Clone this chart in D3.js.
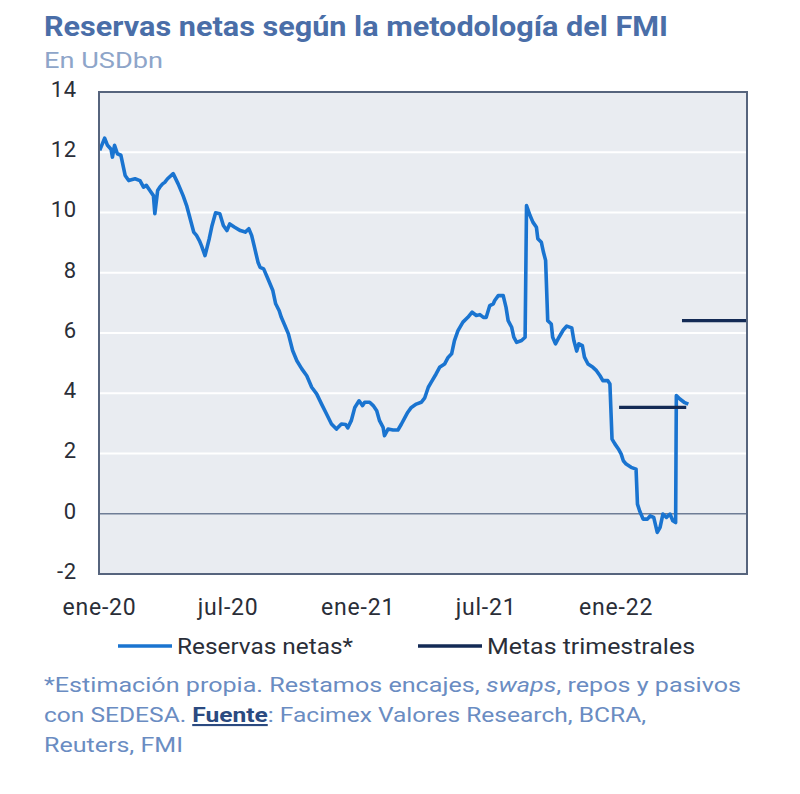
<!DOCTYPE html>
<html><head><meta charset="utf-8">
<script src="https://cdn.jsdelivr.net/npm/d3@7"></script>
<style>
body{margin:0;background:#fff}
text{font-family:Roboto,"Noto Sans",sans-serif}
</style>
</head><body>
<svg id="c" width="800" height="794"></svg>
<script>
const reservaFechas = [
"2020-01-02","2020-01-09","2020-01-13","2020-01-18","2020-01-20","2020-01-23","2020-01-27","2020-02-01","2020-02-07","2020-02-12",
"2020-02-21","2020-02-28","2020-03-04","2020-03-08","2020-03-13","2020-03-18","2020-03-20","2020-03-24","2020-03-27","2020-03-31",
"2020-04-03","2020-04-07","2020-04-15","2020-04-22","2020-04-29","2020-05-04","2020-05-09","2020-05-14","2020-05-18","2020-05-22",
"2020-05-25","2020-05-30","2020-06-05","2020-06-09","2020-06-14","2020-06-20","2020-06-25","2020-06-30","2020-07-04","2020-07-11",
"2020-07-19","2020-07-26","2020-07-31","2020-08-04","2020-08-08","2020-08-13","2020-08-16","2020-08-21","2020-08-27","2020-09-03",
"2020-09-07","2020-09-12","2020-09-15","2020-09-20","2020-09-25","2020-10-01","2020-10-07","2020-10-14","2020-10-21","2020-10-28",
"2020-11-04","2020-11-11","2020-11-18","2020-11-25","2020-12-02","2020-12-09","2020-12-15","2020-12-18","2020-12-23","2020-12-28",
"2021-01-03","2021-01-08","2021-01-11","2021-01-18","2021-01-23","2021-01-28","2021-02-01","2021-02-06","2021-02-08","2021-02-13",
"2021-02-20","2021-02-27","2021-03-04","2021-03-09","2021-03-13","2021-03-18","2021-03-25","2021-04-01","2021-04-06","2021-04-11",
"2021-04-15","2021-04-22","2021-04-27","2021-05-04","2021-05-09","2021-05-14","2021-05-18","2021-05-23","2021-05-30","2021-06-06",
"2021-06-12","2021-06-18","2021-06-23","2021-06-28","2021-07-02","2021-07-07","2021-07-12","2021-07-14","2021-07-19","2021-07-26",
"2021-07-30","2021-08-02","2021-08-07","2021-08-10","2021-08-14","2021-08-21","2021-08-26","2021-08-28","2021-09-02","2021-09-06",
"2021-09-11","2021-09-13","2021-09-18","2021-09-21","2021-09-24","2021-09-27","2021-10-02","2021-10-04","2021-10-08","2021-10-13",
"2021-10-19","2021-10-24","2021-10-31","2021-11-03","2021-11-07","2021-11-10","2021-11-15","2021-11-18","2021-11-23","2021-11-30",
"2021-12-05","2021-12-10","2021-12-14","2021-12-21","2021-12-24","2021-12-27","2021-12-31","2022-01-05","2022-01-09","2022-01-12",
"2022-01-16","2022-01-23","2022-01-30","2022-02-01","2022-02-04","2022-02-09","2022-02-15","2022-02-19","2022-02-24","2022-03-01",
"2022-03-05","2022-03-09","2022-03-14","2022-03-19","2022-03-23","2022-03-27","2022-03-28","2022-04-02","2022-04-08","2022-04-14"
];
const reservaValores = [
12.06,12.47,12.23,12.10,11.84,12.23,11.95,11.90,11.23,11.06,
11.12,11.06,10.84,10.90,10.73,10.56,9.96,10.73,10.84,10.95,
11.00,11.12,11.29,10.95,10.56,10.23,9.79,9.35,9.24,9.07,
8.90,8.57,9.13,9.57,9.99,9.96,9.57,9.40,9.62,9.51,
9.40,9.35,9.46,9.24,8.85,8.35,8.18,8.13,7.80,7.41,
6.97,6.74,6.52,6.25,5.97,5.42,5.08,4.81,4.58,4.20,
3.98,3.64,3.31,2.98,2.81,2.98,2.96,2.85,3.09,3.53,
3.75,3.59,3.70,3.70,3.59,3.42,3.09,2.87,2.59,2.81,
2.78,2.78,2.98,3.20,3.37,3.53,3.64,3.70,3.85,4.20,
4.36,4.64,4.86,4.97,5.19,5.31,5.75,6.08,6.36,6.52,
6.69,6.58,6.61,6.52,6.52,6.91,6.97,7.08,7.24,7.24,
6.85,6.41,6.19,5.86,5.69,5.75,5.86,10.23,9.90,9.68,
9.51,9.13,9.01,8.68,8.41,6.41,6.30,5.86,5.64,5.86,
6.10,6.23,6.17,5.75,5.40,5.64,5.58,5.20,4.97,4.86,
4.75,4.58,4.42,4.42,4.31,2.48,2.32,2.15,1.98,1.76,
1.65,1.54,1.48,0.32,0.10,-0.18,-0.18,-0.07,-0.12,-0.62,
-0.45,-0.01,-0.12,-0.01,-0.23,-0.29,3.92,3.81,3.70,3.64
];
const metaInicio = ["2022-01-06","2022-04-05"];
const metaFin = ["2022-04-11","2022-07-06"];
const metaValores = [3.53, 6.41];
const yTicks = [-2,0,2,4,6,8,10,12,14];
const xTickFechas = ["2020-01-01","2020-07-01","2021-01-01","2021-07-01","2022-01-01"];
const xTickEtiquetas = ["ene-20","jul-20","ene-21","jul-21","ene-22"];
const dominioX = ["2020-01-01","2022-07-06"];
const titulo = "Reservas netas según la metodología del FMI";
const subtitulo = "En USDbn";
const serieNombres = ["Reservas netas*","Metas trimestrales"];

const parse = d3.timeParse("%Y-%m-%d");
const svg = d3.select("#c");
const L = 99, R = 747, T = 92, B = 574;
const x = d3.scaleTime().domain(dominioX.map(parse)).range([L, R]);
const y = d3.scaleLinear().domain([-2, 14]).range([B, T]);

const cBlue = "#1a74d0", cNavy = "#132a55", cTitle = "#4a6ea8";

// title
svg.append("text").attr("x", 44).attr("y", 36).attr("font-size", 27).attr("font-weight", 700)
  .attr("fill", cTitle).attr("textLength", 624).attr("lengthAdjust", "spacingAndGlyphs").text(titulo);
svg.append("text").attr("x", 44).attr("y", 68).attr("font-size", 22).attr("fill", "#8ea5c9")
  .attr("textLength", 119).attr("lengthAdjust", "spacingAndGlyphs").text(subtitulo);

// plot background
svg.append("rect").attr("x", L).attr("y", T).attr("width", R - L).attr("height", B - T).attr("fill", "#e9ecf1");

// gridlines
svg.append("g").selectAll("line").data(yTicks.filter(t => t !== 0 && t !== -2 && t !== 14)).join("line")
  .attr("x1", L).attr("x2", R).attr("y1", d => y(d)).attr("y2", d => y(d))
  .attr("stroke", "#ffffff").attr("stroke-width", 2);
svg.append("line").attr("x1", L).attr("x2", R).attr("y1", y(0)).attr("y2", y(0))
  .attr("stroke", "#6f7d96").attr("stroke-width", 1.6);

// y axis labels
const yAxis = d3.axisLeft(y).tickValues(yTicks).tickSize(0).tickPadding(0).tickFormat(d => String(d));
const gy = svg.append("g").attr("transform", `translate(${L - 22},0)`).call(yAxis);
gy.select(".domain").remove();
gy.selectAll("text").attr("font-size", 22).attr("fill", "#2a2e38").attr("letter-spacing", 0.8)
  .attr("font-family", "Roboto,'Noto Sans',sans-serif").attr("dy", "0.2em");

// x axis labels
const xAxis = d3.axisBottom(x).tickValues(xTickFechas.map(parse)).tickSize(0).tickPadding(0)
  .tickFormat((d, i) => xTickEtiquetas[i]);
const gx = svg.append("g").attr("transform", `translate(0,${B + 25})`).call(xAxis);
gx.select(".domain").remove();
gx.selectAll("text").attr("font-size", 23).attr("fill", "#2a2e38").attr("letter-spacing", 0.8)
  .attr("font-family", "Roboto,'Noto Sans',sans-serif").attr("dy", "0.71em");

// reservas line
const datos = reservaFechas.map((f, i) => ({ d: parse(f), v: reservaValores[i] }));
svg.append("path").datum(datos)
  .attr("d", d3.line().x(p => x(p.d)).y(p => y(p.v)))
  .attr("fill", "none").attr("stroke", cBlue).attr("stroke-width", 3.6)
  .attr("stroke-linejoin", "round");

// metas
svg.append("g").selectAll("line").data(metaValores).join("line")
  .attr("x1", (d, i) => x(parse(metaInicio[i]))).attr("x2", (d, i) => x(parse(metaFin[i])))
  .attr("y1", d => y(d)).attr("y2", d => y(d))
  .attr("stroke", cNavy).attr("stroke-width", 3.4);

// border
svg.append("rect").attr("x", L).attr("y", T).attr("width", R - L).attr("height", B - T)
  .attr("fill", "none").attr("stroke", "#56647d").attr("stroke-width", 2);

// legend
const leg = [
  { x1: 118, x2: 172, tx: 177, c: cBlue, w: 176 },
  { x1: 418, x2: 482, tx: 487, c: cNavy, w: 208 }
];
leg.forEach((l, i) => {
  svg.append("line").attr("x1", l.x1).attr("x2", l.x2).attr("y1", 646).attr("y2", 646)
    .attr("stroke", l.c).attr("stroke-width", 3.4);
  svg.append("text").attr("x", l.tx).attr("y", 654).attr("font-size", 21.5).attr("fill", "#2a2e38")
    .attr("textLength", l.w).attr("lengthAdjust", "spacingAndGlyphs").text(serieNombres[i]);
});

// footnote
const cFoot = "#6a8cc2";
const f1 = svg.append("text").attr("x", 44).attr("y", 692).attr("font-size", 21).attr("fill", cFoot)
  .attr("textLength", 697).attr("lengthAdjust", "spacingAndGlyphs");
f1.append("tspan").text("*Estimación propia. Restamos encajes, ");
f1.append("tspan").attr("font-style", "italic").text("swaps");
f1.append("tspan").text(", repos y pasivos");
const f2 = svg.append("text").attr("x", 44).attr("y", 722).attr("font-size", 21).attr("fill", cFoot)
  .attr("textLength", 602).attr("lengthAdjust", "spacingAndGlyphs");
f2.append("tspan").text("con SEDESA. ");
f2.append("tspan").attr("font-weight", 700).attr("fill", "#2b4a80").attr("text-decoration", "underline").text("Fuente");
f2.append("tspan").text(": Facimex Valores Research, BCRA,");
svg.append("text").attr("x", 44).attr("y", 752).attr("font-size", 21).attr("fill", cFoot)
  .attr("textLength", 139).attr("lengthAdjust", "spacingAndGlyphs").text("Reuters, FMI");
</script>
</body></html>
